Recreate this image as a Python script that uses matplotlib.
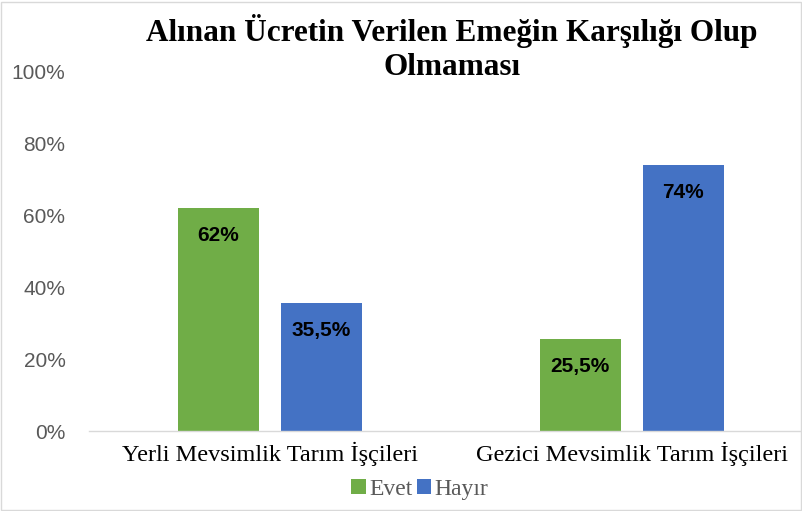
import matplotlib.pyplot as plt
import numpy as np
from matplotlib.patches import Rectangle

# data
categories = ['Yerli Mevsimlik Tarım İşçileri', 'Gezici Mevsimlik Tarım İşçileri']
evet = [62, 25.5]
hayir = [35.5, 74]
evet_labels = ['62%', '25,5%']
hayir_labels = ['35,5%', '74%']
yticks = [0, 20, 40, 60, 80, 100]

green = '#70AD47'
blue = '#4472C4'

fig = plt.figure(figsize=(8.03, 5.11), dpi=100)
ax = fig.add_axes([89/803, 1-431/511, (800-89)/803, (431-71)/511])

x = np.arange(len(categories))
w = 0.224
off = 0.142
b1 = ax.bar(x - off, evet, w, color=green, label='Evet')
b2 = ax.bar(x + off, hayir, w, color=blue, label='Hayır')

for bars, labs in ((b1, evet_labels), (b2, hayir_labels)):
    for bar, lab in zip(bars, labs):
        ax.annotate(lab, (bar.get_x() + bar.get_width()/2, bar.get_height()),
                    xytext=(0, -20), textcoords='offset points',
                    ha='center', va='center', fontsize=15, fontweight='bold',
                    family='Liberation Sans', color='black')

ax.set_xlim(-0.5, 1.465)
ax.set_ylim(0, 100)
ax.set_yticks(yticks)
ax.set_yticklabels([f'{v}%' for v in yticks], family='Liberation Sans', fontsize=15, color='#595959')
ax.set_xticks(x)
ax.set_xticklabels(categories, family='Liberation Serif', fontsize=17.5, color='black')
ax.tick_params(axis='y', length=0, pad=17)
ax.tick_params(axis='x', length=0, pad=8)
for s in ['top', 'right', 'left']:
    ax.spines[s].set_visible(False)
ax.spines['bottom'].set_color('#D9D9D9')
ax.spines['bottom'].set_linewidth(1)

fig.text(452/803, 1-31/511, 'Alınan Ücretin Verilen Emeğin Karşılığı Olup', ha='center', va='center',
         family='Liberation Serif', fontweight='bold', fontsize=22.5)
fig.text(452/803, 1-67/511, 'Olmaması', ha='center', va='center',
         family='Liberation Serif', fontweight='bold', fontsize=22.5)

leg = fig.legend(loc='center', bbox_to_anchor=(420/803, 1-489/511), ncol=2, frameon=False,
                 prop={'family': 'Liberation Serif', 'size': 17}, handlelength=0.6, handleheight=0.6,
                 handletextpad=0.15, columnspacing=0.2)
for t in leg.get_texts():
    t.set_color('#595959')

fig.patches.append(Rectangle((1/803, 1/511), 1-3/803, 1-3/511, transform=fig.transFigure,
                             fill=False, edgecolor='#D9D9D9', linewidth=1))

fig.savefig('out.png', dpi=100)
